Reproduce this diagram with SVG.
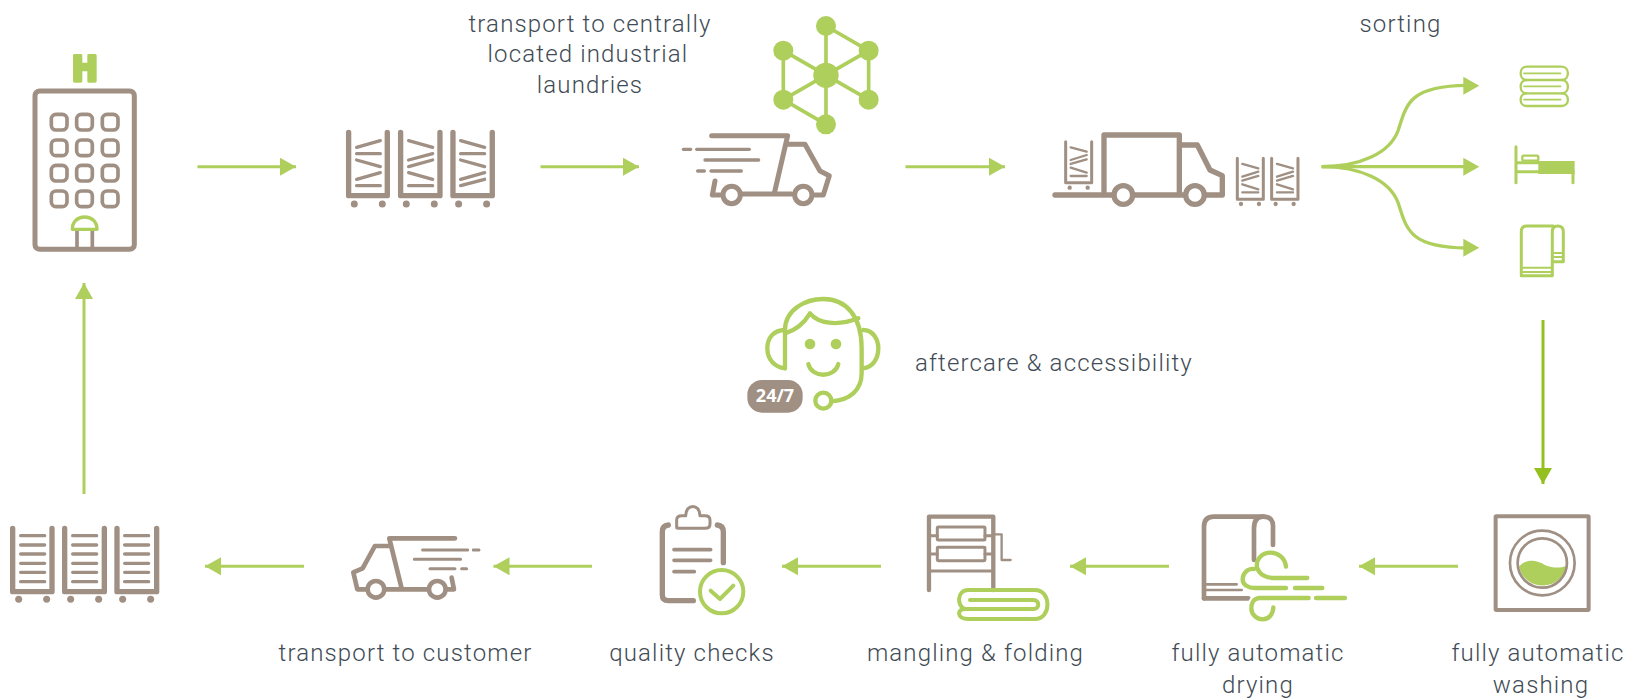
<svg xmlns="http://www.w3.org/2000/svg" xmlns:xlink="http://www.w3.org/1999/xlink" width="1629" height="700" viewBox="0 0 1629 700">
<style>
.b,.b *{stroke:#a08f83;fill:none;stroke-linecap:round;stroke-linejoin:round}
.g,.g *{stroke:#aecf5c;fill:none;stroke-linecap:round;stroke-linejoin:round}
.fb{fill:#a08f83 !important;stroke:none !important}
.fg{fill:#aecf5c !important;stroke:none !important}
.halo{stroke:#fff !important;fill:none;stroke-linecap:round;stroke-linejoin:round}
.conn{stroke:#aecf5c;stroke-width:3;fill:none;marker-end:url(#ah)}
.connd{stroke:#93c01f;stroke-width:3;fill:none;marker-end:url(#ahd)}
text{font-family:"Roboto","Liberation Sans",sans-serif;font-size:24px;font-weight:300;fill:#3f4b55;letter-spacing:1.15px}
.m{text-anchor:middle}
</style>
<defs>
<marker id="ah" markerUnits="userSpaceOnUse" viewBox="0 0 16 18" markerWidth="16" markerHeight="18" refX="16" refY="9" orient="auto"><path d="M0,0L16,9L0,18Z" fill="#aecf5c"/></marker>
<marker id="ahd" markerUnits="userSpaceOnUse" viewBox="0 0 16 18" markerWidth="16" markerHeight="18" refX="16" refY="9" orient="auto"><path d="M0,0L16,9L0,18Z" fill="#93c01f"/></marker>
<g id="whl"><circle cx="0" cy="0" r="10.5" class="fb"/></g>
</defs>
<g id="connectors">
<path class="conn" d="M197.500,166.700H296"/>
<path class="conn" d="M540.500,166.700H639"/>
<path class="conn" d="M905.500,166.700H1005"/>
<g transform="translate(1310,50) scale(.3333)">
<path class="conn" style="stroke-width:10;marker-end:none" d="M35,350H470"/>
<path class="conn" style="stroke-width:10;marker-end:none" d="M35,350C150,350 240,310 265,240C290,160 300,108 470,106"/>
<path class="conn" style="stroke-width:10;marker-end:none" d="M35,350C150,350 240,390 265,460C290,540 300,592 470,594"/>
<path class="fg" d="M460,80L508,107L460,134Z"/>
<path class="fg" d="M460,323L508,350L460,377Z"/>
<path class="fg" d="M460,566L508,593L460,620Z"/>
</g>
<path class="connd" d="M1543,320V484"/>
<path class="conn" d="M1458,566.300H1359"/>
<path class="conn" d="M1169,566.300H1070"/>
<path class="conn" d="M881,566.300H782"/>
<path class="conn" d="M592,566.300H493.500"/>
<path class="conn" d="M304,566.300H205"/>
<path class="conn" d="M84,494V283"/>
</g>

<g id="hotel" transform="translate(0,30) scale(.3333)">
<path class="fg" d="M225,72H242Q247,72 247,76V98H262V76Q262,72 266,72H284Q290,72 290,76V154Q290,158 284,158H266Q262,158 262,154V124H247V154Q247,158 242,158H225Q219,158 219,154V76Q219,72 225,72Z"/>
<g class="b" stroke-width="15"><rect x="105" y="183" width="298" height="475" rx="14"/></g>
<g class="b" stroke-width="11">
<rect x="154" y="253" width="47" height="47" rx="14"/><rect x="230" y="253" width="47" height="47" rx="14"/><rect x="307" y="253" width="47" height="47" rx="14"/>
<rect x="154" y="330" width="47" height="47" rx="14"/><rect x="230" y="330" width="47" height="47" rx="14"/><rect x="307" y="330" width="47" height="47" rx="14"/>
<rect x="154" y="406" width="47" height="47" rx="14"/><rect x="230" y="406" width="47" height="47" rx="14"/><rect x="307" y="406" width="47" height="47" rx="14"/>
<rect x="154" y="483" width="47" height="47" rx="14"/><rect x="230" y="483" width="47" height="47" rx="14"/><rect x="307" y="483" width="47" height="47" rx="14"/>
<path d="M231,600V655M277,600V655"/>
</g>
<g class="g" stroke-width="10"><path d="M217,598H291C291,575 275,561 254,561C233,561 217,575 217,598Z"/></g>
</g>

<g id="carts-mixed" transform="translate(0,30) scale(.3333)">
<g class="b" stroke-width="16">
<path d="M1046,307V497H1162V307"/><path d="M1202,307V497H1320V307"/><path d="M1359,307V497H1477V307"/>
</g>
<g class="b" stroke-width="10">
<path d="M1070,352L1141,332M1070,371H1141M1070,390L1141,410M1070,448L1141,428M1070,467H1141"/>
<path d="M1226,332L1298,352M1226,390L1298,371M1226,410L1298,390M1226,428L1298,448M1226,467H1298"/>
<path d="M1382,332L1454,352M1382,371H1454M1382,390L1454,410M1382,448L1454,428M1382,467L1454,448"/>
</g>
<use xlink:href="#whl" href="#whl" x="1063" y="522"/><use xlink:href="#whl" href="#whl" x="1147" y="522"/>
<use xlink:href="#whl" href="#whl" x="1219" y="522"/><use xlink:href="#whl" href="#whl" x="1303" y="522"/>
<use xlink:href="#whl" href="#whl" x="1376" y="522"/><use xlink:href="#whl" href="#whl" x="1460" y="522"/>
</g>

<g id="network" transform="translate(650,0) scale(.3333)">
<g class="g" stroke-width="11"><path d="M528,78V373M400,152L656,299M400,299L656,152M528,78L656,152M400,152V299M656,152V299M400,299L528,373"/></g>
<circle class="fg" cx="528" cy="226" r="38"/><circle class="fg" cx="528" cy="78" r="30"/><circle class="fg" cx="400" cy="152" r="30"/><circle class="fg" cx="656" cy="152" r="30"/><circle class="fg" cx="400" cy="299" r="30"/><circle class="fg" cx="656" cy="299" r="30"/><circle class="fg" cx="528" cy="373" r="30"/>
</g>

<g id="truck-fast" transform="translate(650,0) scale(.3333)">
<g class="b" stroke-width="15">
<path d="M185,407H413L373,580"/>
<path d="M415,433H465L510,513L538,527L520,585H495"/>
<path d="M275,582H425"/>
<path d="M195,543L187,585H210"/>
<circle cx="245" cy="585" r="26"/><circle cx="460" cy="585" r="26"/>
</g>
<g class="b" stroke-width="10"><path d="M100,448H122M140,448H298M165,480H326M143,513H163M183,513H274"/></g>
</g>

<g id="truck-loading" transform="translate(1040,60) scale(.3333)">
<g class="b" stroke-width="16">
<path d="M192,395V225H418V395"/>
<path d="M425,255H472L510,330L547,347V405H500"/>
<path d="M45,405H215M285,405H430"/>
<circle cx="250" cy="405" r="28"/><circle cx="465" cy="405" r="28"/>
</g>
<g class="b" stroke-width="9">
<path d="M77,245V368H155V245"/><path d="M592,295V418H670V295"/><path d="M695,295V418H774V295"/>
</g>
<g class="b" stroke-width="7">
<path d="M92,262L140,275M92,300L140,285M92,312L140,298M92,323L140,338M92,348H140"/>
<path d="M607,312L655,325M607,350L655,335M607,362L655,348M607,373L655,388M607,397H655"/>
<path d="M711,312L759,325M711,350L759,335M711,362L759,348M711,373L759,388M711,397H759"/>
</g>
<circle class="fb" cx="89" cy="383" r="6.500"/><circle class="fb" cx="143" cy="383" r="6.500"/><circle class="fb" cx="603" cy="432" r="6.500"/><circle class="fb" cx="657" cy="432" r="6.500"/><circle class="fb" cx="707" cy="432" r="6.500"/><circle class="fb" cx="761" cy="432" r="6.500"/>
</g>

<g id="linen-stack" transform="translate(1310,50) scale(.3333)">
<g class="g" stroke-width="7">
<path d="M650,50H755C780,50 780,90 755,90H650C626,90 626,50 650,50Z"/>
<path d="M650,90C626,90 626,130 650,130H755C780,130 780,90 755,90"/>
<path d="M650,130C626,130 626,168 650,168H755C780,168 780,130 755,130"/>
<path d="M642,70H752M642,109H752M642,149H752" stroke-width="5"/>
</g>
</g>
<g id="bed" transform="translate(1310,50) scale(.3333)">
<path class="fg" d="M685,333H794V372H685Z"/>
<g class="g" stroke-width="9"><path d="M618,290V398M618,365H790M789,365V398M618,338H690"/></g>
<g class="g" stroke-width="7"><rect x="637" y="317" width="48" height="15" rx="4"/></g>
</g>
<g id="towel" transform="translate(1310,50) scale(.3333)">
<g class="g" stroke-width="9">
<path d="M730,528H650Q634,528 634,545V677H727V545Q727,528 743,528Q760,528 760,545V635H730"/>
</g>
<g class="g" stroke-width="6"><path d="M640,653H724M640,666H724M733,609H757M733,621H757"/></g>
</g>

<g id="support" transform="translate(730,280) scale(.3333)">
<g class="g" stroke-width="13">
<path d="M165,265V150C165,90 225,57 280,57C350,57 395,110 395,205V280C395,330 360,360 305,364"/>
<path d="M165,160C200,150 225,125 240,100C265,130 320,140 385,115"/>
<path d="M165,150C130,150 112,175 112,205C112,240 135,262 165,265"/>
<path d="M400,150C430,150 445,180 445,205C445,240 425,262 400,265"/>
<path d="M235,252C245,295 315,295 325,252"/>
<circle cx="280" cy="362" r="24"/>
</g>
<circle class="fg" cx="240" cy="192" r="16"/><circle class="fg" cx="318" cy="192" r="16"/>
<rect class="fb" x="52" y="300" width="166" height="98" rx="44"/>
</g>
<text x="775" y="402" class="m" style="font-family:'Open Sans','Liberation Sans',sans-serif;font-size:18px;font-weight:700;fill:#fff;letter-spacing:0">24/7</text>

<g id="washer" transform="translate(1180,500) scale(.3333)">
<path class="fg" d="M1017,200C1040,175 1070,180 1095,195C1120,205 1140,205 1160,197A73,73 0 0 1 1017,200Z"/>
<g class="b" stroke-width="12"><rect x="947" y="49" width="279" height="281" rx="2"/></g>
<g class="b" stroke-width="8"><circle cx="1087" cy="189" r="97"/><circle cx="1087" cy="189" r="74"/></g>
</g>

<g id="dryer" transform="translate(1180,500) scale(.3333)">
<g class="b" stroke-width="14">
<path d="M72,295V80Q72,50 102,50H250Q282,50 279,85V135"/>
<path d="M222,180V85Q222,50 250,50"/>
<path d="M72,295H205"/>
</g>
<g class="b" stroke-width="8"><path d="M80,253H170M80,270H185"/></g>
<g stroke-width="26">
<path class="halo" d="M232,205C240,225 260,234 280,234H382M188,238C188,255 205,264 225,264H318M240,294C220,294 214,312 214,325"/>
</g>
<g class="g" stroke-width="13">
<path d="M318,200C315,170 290,158 272,158C245,158 225,180 232,205C240,225 260,234 280,234H382"/>
<path d="M222,207C200,205 188,222 188,238C188,255 205,264 225,264H318M345,264H427"/>
<path d="M386,294H240C220,294 214,312 214,325C214,345 232,358 248,358C268,358 280,340 280,322M408,294H495"/>
</g>
</g>

<g id="mangle" transform="translate(640,495) scale(.3333)">
<g class="b" stroke-width="13"><path d="M867,285V65H1060V285"/></g>
<g class="b" stroke-width="9">
<path d="M867,228H1060"/>
<rect x="892" y="96" width="143" height="39" rx="3"/><rect x="892" y="157" width="143" height="40" rx="3"/>
<path d="M867,122H892M867,177H892M1035,122H1060M1035,177H1060"/>
</g>
<g class="b" stroke-width="7"><path d="M1060,118H1085V195H1112"/></g>
<g class="g" stroke-width="12"><path d="M985,285H1185C1235,285 1235,372 1185,372H985C950,372 950,342 975,342H1180C1200,342 1200,315 1180,315H990M985,285C950,285 950,335 975,342"/></g>
</g>

<g id="quality" transform="translate(640,495) scale(.3333)">
<g class="b" stroke-width="16">
<path d="M85,90Q67,92 67,110V300Q67,317 85,317H160"/>
<path d="M232,90Q250,92 250,110V203"/>
</g>
<g class="b" stroke-width="9"><path d="M110,98V75Q110,62 125,62H137C137,25 180,25 180,62H195Q210,62 210,75V88Q210,100 195,100H122Q110,100 110,98Z"/></g>
<g class="b" stroke-width="11"><path d="M102,164H212M102,196H212M102,230H163"/></g>
<g class="g" stroke-width="12"><circle cx="245" cy="290" r="65"/></g>
<g class="g" stroke-width="12"><path d="M212,287L240,312L280,272"/></g>
</g>

<g id="truck-return" transform="translate(0,510) scale(.3333)">
<g class="b" stroke-width="14">
<path d="M1365,85H1168L1205,235"/>
<path d="M1168,108H1125L1088,175L1060,187L1072,238H1098"/>
<path d="M1155,238H1285M1340,238H1362L1355,203"/>
<circle cx="1128" cy="238" r="25"/><circle cx="1312" cy="238" r="25"/>
</g>
<g class="b" stroke-width="9"><path d="M1268,120H1403M1420,120H1437M1243,148H1382M1290,176H1365M1385,176H1400"/></g>
</g>

<g id="carts-clean" transform="translate(0,510) scale(.3333)">
<g class="b" stroke-width="16"><path d="M38,55V245H156V55"/><path d="M194,55V245H313V55"/><path d="M351,55V245H470V55"/></g>
<g class="b" stroke-width="10">
<path d="M62,77H134M62,105H134M62,132H134M62,160H134M62,187H134M62,215H134"/>
<path d="M218,77H290M218,105H290M218,132H290M218,160H290M218,187H290M218,215H290"/>
<path d="M374,77H446M374,105H446M374,132H446M374,160H446M374,187H446M374,215H446"/>
</g>
<use xlink:href="#whl" href="#whl" x="56" y="268"/><use xlink:href="#whl" href="#whl" x="140" y="268"/>
<use xlink:href="#whl" href="#whl" x="212" y="268"/><use xlink:href="#whl" href="#whl" x="296" y="268"/>
<use xlink:href="#whl" href="#whl" x="368" y="268"/><use xlink:href="#whl" href="#whl" x="452" y="268"/>
</g>

<g id="labels">
<text class="m" x="590" y="32">transport to centrally</text>
<text class="m" x="588" y="62">located industrial</text>
<text class="m" x="590" y="93">laundries</text>
<text class="m" x="1400.500" y="32">sorting</text>
<text x="915" y="371">aftercare &amp; accessibility</text>
<text class="m" x="405.500" y="661">transport to customer</text>
<text class="m" x="692" y="661">quality checks</text>
<text class="m" x="975.500" y="661">mangling &amp; folding</text>
<text class="m" x="1258" y="661">fully automatic</text>
<text class="m" x="1258" y="693">drying</text>
<text class="m" x="1538" y="661">fully automatic</text>
<text class="m" x="1541" y="693">washing</text>
</g>
</svg>
